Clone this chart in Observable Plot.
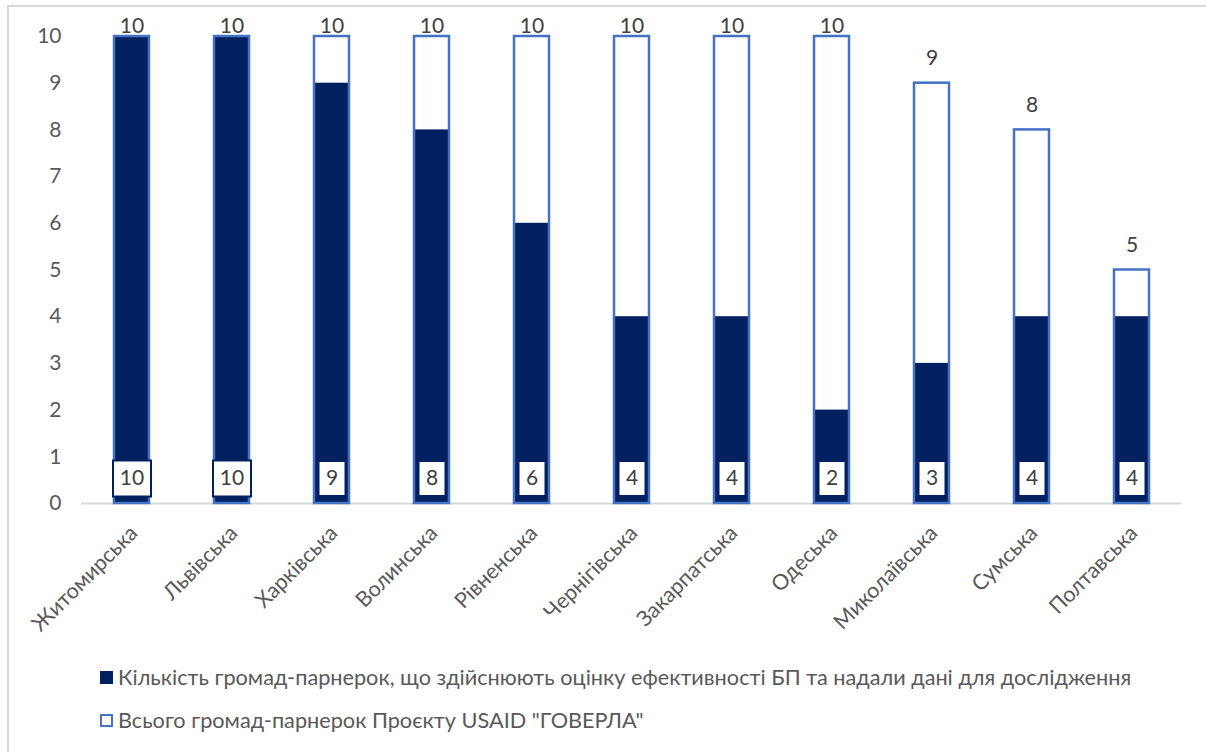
<!DOCTYPE html>
<html>
<head>
<meta charset="utf-8">
<script src="https://cdn.jsdelivr.net/npm/d3@7"></script>
<script src="https://cdn.jsdelivr.net/npm/@observablehq/plot@0.6"></script>
<style>
  html, body { margin: 0; padding: 0; background: #fff; }
  body { width: 1206px; height: 752px; overflow: hidden; position: relative; font-family: Lato, "Open Sans", sans-serif; }
  #frame { position: absolute; left: 7px; top: 5px; width: 1230px; height: 800px; border: 2px solid #d9d9d9; box-sizing: border-box; }
  #chart { position: absolute; left: 0; top: 0; }
  .legend { position: absolute; left: 100px; font-size: 21.7px; color: #595959; display: flex; align-items: center; white-space: nowrap; }
  .sw { width: 13px; height: 13px; box-sizing: border-box; margin-right: 5px; }
</style>
</head>
<body>
<div id="frame"></div>
<div id="chart"></div>
<div class="legend" style="top:664px"><div class="sw" style="background:#002060"></div>Кількість громад-парнерок, що здійснюють оцінку ефективності БП та надали дані для дослідження</div>
<div class="legend" style="top:707px"><div class="sw" style="background:#fff;border:2px solid #4472C4"></div>Всього громад-парнерок Проєкту USAID "ГОВЕРЛА"</div>
<script>
const categories = ["Житомирська","Львівська","Харківська","Волинська","Рівненська","Чернігівська","Закарпатська","Одеська","Миколаївська","Сумська","Полтавська"];
const assessed = [10,10,9,8,6,4,4,2,3,4,4];
const totals = [10,10,10,10,10,10,10,10,9,8,5];
const yTicks = [0,1,2,3,4,5,6,7,8,9,10];

const rows = categories.map((c, i) => ({region: c, assessed: assessed[i], total: totals[i]}));

const NAVY = "#002060", BLUE = "#4472C4";
function boxSymbol(w, h) {
  return { draw(ctx) { ctx.moveTo(-w/2, -h/2); ctx.lineTo(w/2, -h/2); ctx.lineTo(w/2, h/2); ctx.lineTo(-w/2, h/2); ctx.closePath(); } };
}
const wideBox = boxSymbol(38, 36), narrowBox = boxSymbol(27, 35);

const chart = Plot.plot({
  width: 1206,
  height: 650,
  marginLeft: 81,
  marginRight: 25,
  marginTop: 36,
  marginBottom: 147,
  style: { fontFamily: "Lato, 'Open Sans', sans-serif", fontSize: "21px", color: "#595959", background: "transparent" },
  x: { domain: categories, paddingInner: 0.65, paddingOuter: 0.325, label: null },
  y: { domain: [0, 10], label: null },
  marks: [
    Plot.ruleY([0], { stroke: "#d9d9d9", strokeWidth: 2 }),
    Plot.barY(rows, { x: "region", y: "total", fill: "white" }),
    Plot.barY(rows, { x: "region", y: "assessed", fill: NAVY }),
    Plot.barY(rows, { x: "region", y: "total", fill: "none", stroke: BLUE, strokeWidth: 2.5 }),
    Plot.dot(rows.filter(d => d.assessed >= 10), { x: "region", y: () => 0, dy: -25, symbol: wideBox, r: 5, fill: "white", stroke: NAVY, strokeWidth: 2 }),
    Plot.dot(rows.filter(d => d.assessed < 10), { x: "region", y: () => 0, dy: -25, symbol: narrowBox, r: 5, fill: "white", stroke: NAVY, strokeWidth: 2 }),
    Plot.text(rows, { x: "region", y: () => 0, dy: -25, text: d => String(d.assessed), fill: "#404040", fontSize: 21 }),
    Plot.text(rows.filter(d => d.total >= 10), { x: "region", y: "total", dy: -10, text: d => String(d.total), fill: "#404040", fontSize: 21 }),
    Plot.text(rows.filter(d => d.total < 10), { x: "region", y: "total", dy: -25, text: d => String(d.total), fill: "#404040", fontSize: 21 }),
    Plot.axisY(yTicks, { tickSize: 0, tickPadding: 20, label: null, fontSize: 21 }),
    Plot.axisX({ tickSize: 0, tickPadding: 26, dx: 2, tickRotate: -45, label: null, fontSize: 21.5 })
  ]
});
document.getElementById("chart").appendChild(chart);
</script>
</body>
</html>
